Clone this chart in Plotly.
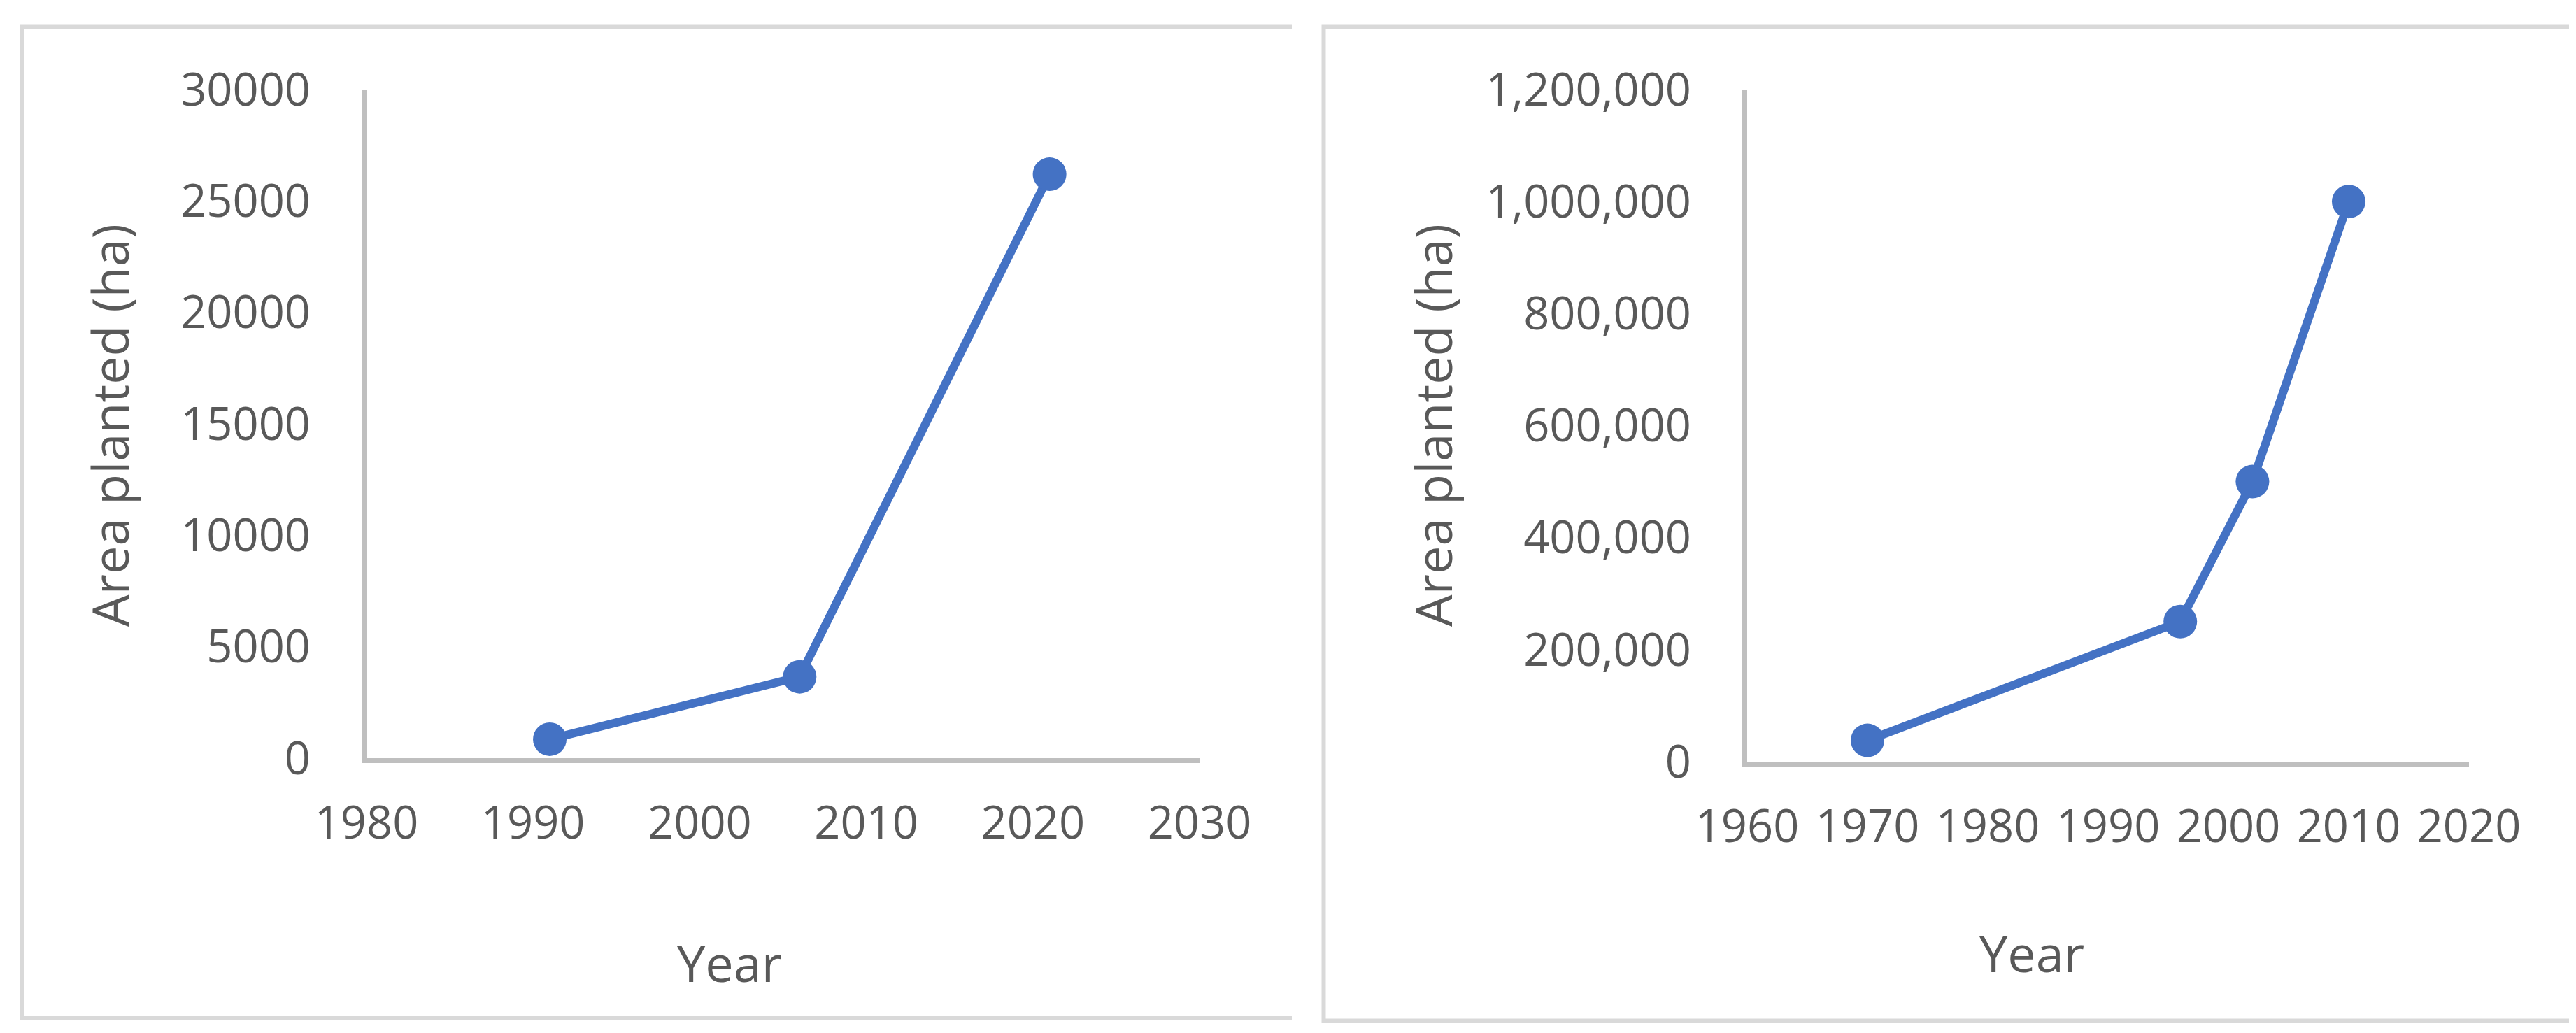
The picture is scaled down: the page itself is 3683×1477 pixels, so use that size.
import plotly.graph_objects as go

W, H = 3683, 1477

# left chart
years_a = [1991, 2006, 2021]
area_a = [850, 3650, 26200]

# right chart
years_b = [1970, 1996, 2002, 2010]
area_b = [38000, 250000, 500000, 1000000]

x_title = "Year"
y_title = "Area planted (ha)"

blue = "#4472c4"
grey_txt = "#595959"
axis_col = "#bfbfbf"
frame_col = "#d9d9d9"
font = "Open Sans"


def px(x):
    return x / W


def py(y):
    return 1 - y / H


fig = go.Figure()
fig.add_trace(go.Scatter(
    x=years_a, y=area_a, mode="lines+markers",
    line=dict(color=blue, width=12),
    marker=dict(color=blue, size=48),
    xaxis="x", yaxis="y", showlegend=False,
))
fig.add_trace(go.Scatter(
    x=years_b, y=area_b, mode="lines+markers",
    line=dict(color=blue, width=12),
    marker=dict(color=blue, size=48),
    xaxis="x2", yaxis="y2", showlegend=False,
))

ax_common = dict(
    showgrid=False, zeroline=False, showline=True, automargin=False,
    linecolor=axis_col, linewidth=7,
    ticks="outside", tickcolor="rgba(0,0,0,0)",
    tickfont=dict(family=font, size=65, color=grey_txt),
    fixedrange=True,
)

fig.update_layout(
    width=W, height=H,
    margin=dict(l=0, r=0, t=0, b=0, pad=0, autoexpand=False),
    paper_bgcolor="white", plot_bgcolor="white",
    xaxis=dict(domain=[px(516), px(1707)], range=[1980, 2030], dtick=10,
               anchor="y", ticklen=30, **ax_common),
    yaxis=dict(domain=[py(1076), py(120)], range=[0, 30000], dtick=5000,
               tickformat="d", anchor="x", ticklen=60, **ax_common),
    xaxis2=dict(domain=[px(2490), px(3522)], range=[1960, 2020], dtick=10,
                anchor="y2", ticklen=30, **ax_common),
    yaxis2=dict(domain=[py(1081), py(120)], range=[0, 1200000], dtick=200000,
                tickformat=",", anchor="x2", ticklen=60, **ax_common),
)

# axis titles
title_font = dict(family=font, size=72, color=grey_txt)
for xc, yc in [(1035, 1368), (2897, 1354)]:
    fig.add_annotation(text=x_title, x=px(xc), y=py(yc), xref="paper", yref="paper",
                       showarrow=False, font=title_font, xanchor="center", yanchor="middle")
for xc in [148, 2040]:
    fig.add_annotation(text=y_title, x=px(xc), y=py(600), xref="paper", yref="paper",
                       showarrow=False, font=title_font, textangle=-90,
                       xanchor="center", yanchor="middle")

# chart frames (no right edge visible in the source)
for left, top, bottom, right in [(23.5, 30.5, 1447.5, 1839), (1884.5, 30.5, 1451.5, 3665)]:
    fig.add_shape(
        type="path", xref="paper", yref="paper",
        path=f"M {px(right)},{py(top)} L {px(left)},{py(top)} L {px(left)},{py(bottom)} L {px(right)},{py(bottom)}",
        line=dict(color=frame_col, width=6),
    )

fig.write_html("out.html")
